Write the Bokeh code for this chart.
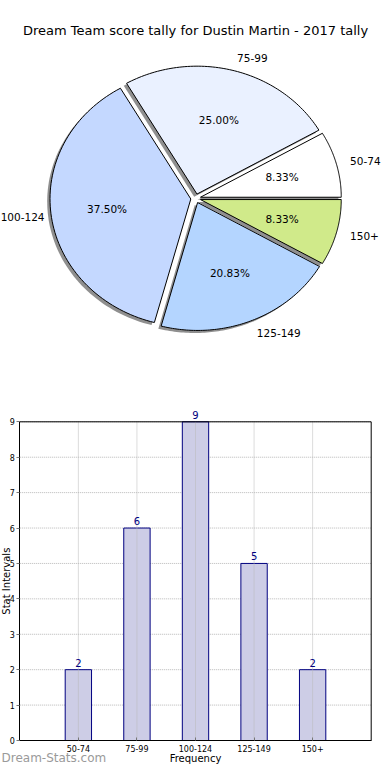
import numpy as np
from bokeh.plotting import figure
from bokeh.layouts import column
from bokeh.models import Range1d, Label, LabelSet, ColumnDataSource, FixedTicker
from bokeh.core.properties import value
from bokeh.embed import file_html
from bokeh.resources import INLINE

# ---------------- data ----------------
title_text = "Dream Team score tally for Dustin Martin - 2017 tally"
categories = ["50-74", "75-99", "100-124", "125-149", "150+"]
counts = [2, 6, 9, 5, 2]
pie_colors = ["#ffffff", "#eaf1ff", "#c4d8ff", "#b4d5ff", "#d0ea8a"]
y_ticks = [0, 1, 2, 3, 4, 5, 6, 7, 8, 9]
x_label = "Frequency"
y_label = "Stat Intervals"
watermark = "Dream-Stats.com"

FONT = "DejaVu Sans"
W = 382

# ---------------- pie (canvas-pixel data space, y negated) ----------------
H1 = 400
p1 = figure(width=W, height=H1, x_range=Range1d(0, W), y_range=Range1d(-H1, 0),
            output_backend="svg", toolbar_location=None, min_border=0,
            x_axis_location=None, y_axis_location=None)
p1.grid.visible = False
p1.outline_line_color = None

cx, cy, rx, ry = 195.2, 197.9, 140.8, 127.9
explode = 0.035
sh = -0.02

vals = np.array(counts, dtype=float)
frac = vals / vals.sum()
edges = np.concatenate([[0.0], np.cumsum(frac)]) * 2 * np.pi
xs, ys, sxs, sys_ = [], [], [], []
lab_l, lab_r, pct = ([], [], []), ([], [], []), ([], [], [])
for i, (a0, a1) in enumerate(zip(edges[:-1], edges[1:])):
    mid = (a0 + a1) / 2
    ox, oy = explode * np.cos(mid), explode * np.sin(mid)
    t = np.linspace(a0, a1, 80)
    ux = np.concatenate([[0.0], np.cos(t)]) + ox
    uy = np.concatenate([[0.0], np.sin(t)]) + oy
    xs.append(cx + rx * ux)
    ys.append(-cy + ry * uy)
    sxs.append(cx + rx * (ux + sh))
    sys_.append(-cy + ry * (uy + sh))
    lx = cx + rx * (ox + 1.1 * np.cos(mid))
    ly = -cy + ry * (oy + 1.1 * np.sin(mid))
    if np.cos(mid) > 0:
        lab_l[0].append(lx); lab_l[1].append(ly); lab_l[2].append(categories[i])
    else:
        lab_r[0].append(max(lx, 44.0)); lab_r[1].append(ly); lab_r[2].append(categories[i])
    pct[0].append(cx + rx * (ox + 0.6 * np.cos(mid)))
    pct[1].append(-cy + ry * (oy + 0.6 * np.sin(mid)))
    pct[2].append("%.2f%%" % (100 * frac[i]))

p1.patches(sxs, sys_, fill_color="#333333", fill_alpha=0.55, line_color=None)
p1.patches(xs, ys, fill_color=pie_colors, line_color="black", line_width=1)

common = dict(text_font=value(FONT), text_font_size="10.5px", text_color="black", text_baseline="middle")
p1.text(x=lab_l[0], y=lab_l[1], text=lab_l[2], text_align="left", **common)
p1.text(x=lab_r[0], y=lab_r[1], text=lab_r[2], text_align="right", **common)
p1.text(x=pct[0], y=pct[1], text=pct[2], text_align="center", **common)
p1.text(x=[195], y=[-30], text=[title_text], text_align="center", text_baseline="middle",
        text_font=value(FONT), text_font_size="13px", text_color="black")

# ---------------- bars ----------------
H2 = 364
TOP0 = H1                       # canvas y where this figure starts
fx0, fx1 = 19.3, 370.7          # box left/right (canvas px)
fy_top, fy_bot = 421.3, 740.0   # box top/bottom (canvas px)
nx = len(categories) + 1
ymax = max(y_ticks)
ppx = (fx1 - fx0) / nx
ppy = (fy_bot - fy_top) / ymax
xr = Range1d(-fx0 / ppx, (W - fx0) / ppx)
yr = Range1d(-(TOP0 + H2 - fy_bot) / ppy, (fy_bot - TOP0) / ppy)

xpos = list(range(1, len(categories) + 1))
p2 = figure(width=W, height=H2, x_range=xr, y_range=yr,
            output_backend="svg", toolbar_location=None, min_border=0)
p2.outline_line_color = None
p2.grid.visible = False

# grid (dotted), drawn from tick arrays
p2.segment(x0=0, y0=y_ticks, x1=nx, y1=y_ticks, line_color="#b8b8b8", line_dash="1 1", line_width=1)

src = ColumnDataSource(dict(x=xpos, top=counts, lab=[str(c) for c in counts]))
p2.vbar(x="x", top="top", width=0.45, source=src, fill_color="#cdcde6", line_color="#000080", line_width=1)

p2.segment(x0=xpos, y0=0, x1=xpos, y1=ymax, line_color="#b8b8b8", line_dash="1 1", line_width=1)
# top and right box edges
p2.segment(x0=[0, nx], y0=[ymax, 0], x1=[nx, nx], y1=[ymax, ymax], line_color="black", line_width=1)

p2.add_layout(LabelSet(x="x", y="top", text="lab", source=src, y_offset=3, text_align="center",
                       text_baseline="bottom", text_font=value(FONT), text_font_size="10px",
                       text_color="#000080"))

p2.xaxis.ticker = FixedTicker(ticks=xpos)
p2.xaxis.major_label_overrides = {x: c for x, c in zip(xpos, categories)}
p2.yaxis.ticker = FixedTicker(ticks=y_ticks)
p2.xaxis.fixed_location = 0
p2.yaxis.fixed_location = 0
p2.xaxis.bounds = (0, nx)
p2.yaxis.bounds = (0, ymax)
for ax in (p2.xaxis, p2.yaxis):
    ax.axis_line_color = "black"
    ax.major_tick_line_color = "#777777"
    ax.minor_tick_line_color = None
    ax.major_label_text_font = FONT
    ax.major_label_text_font_size = "8px"
    ax.major_label_text_color = "black"
p2.xaxis.major_tick_in = 3
p2.xaxis.major_tick_out = 0
p2.xaxis.major_label_standoff = 4
p2.yaxis.major_tick_in = 0
p2.yaxis.major_tick_out = 3
p2.yaxis.major_label_standoff = 2

p2.add_layout(Label(x=nx / 2, y=-(757.5 - fy_bot) / ppy, text=x_label, text_align="center",
                    text_baseline="middle", text_font=FONT, text_font_size="10px", text_color="black"))
p2.add_layout(Label(x=(6 - fx0) / ppx, y=ymax / 2, text=y_label, angle=np.pi / 2, text_align="center",
                    text_baseline="middle", text_font=FONT, text_font_size="10px", text_color="black"))
p2.add_layout(Label(x=(1 - fx0) / ppx, y=-(757 - fy_bot) / ppy, text=watermark, text_align="left",
                    text_baseline="middle", text_font=FONT, text_font_size="12px", text_color="#9a9a9a"))

layout = column(p1, p2, spacing=0)
open("out.html", "w").write(file_html(layout, INLINE))
